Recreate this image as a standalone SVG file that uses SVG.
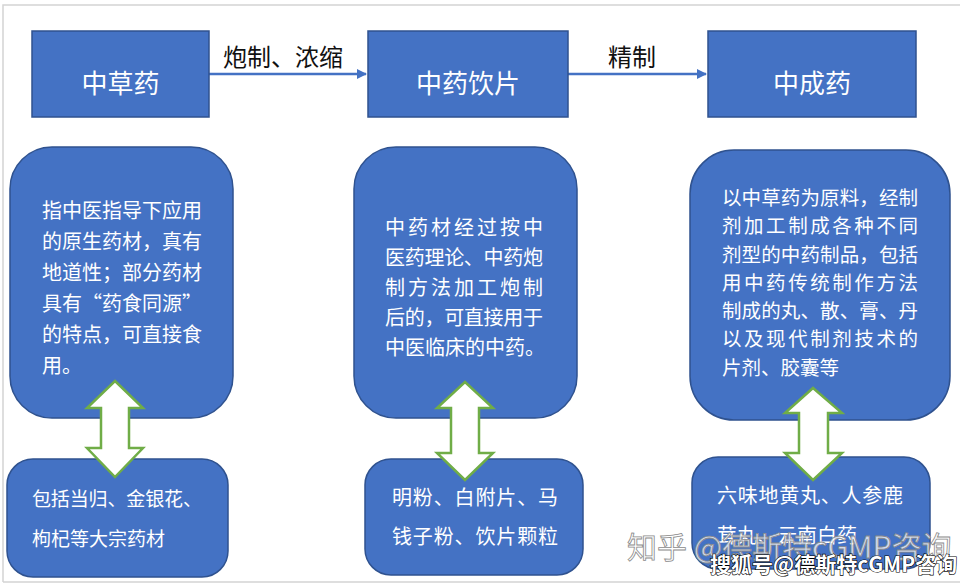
<svg xmlns="http://www.w3.org/2000/svg" width="960" height="586" viewBox="0 0 960 586">
<style>
.box{fill:#4472C4;stroke:#2F528F;stroke-width:1.5}
.t{font-family:"Noto Sans CJK SC","Noto Sans",sans-serif;fill:#fff}
.title{font-size:26px;text-anchor:middle}
.body{font-size:20px}
.lbl{font-family:"Noto Sans CJK SC","Noto Sans",sans-serif;font-size:24px;fill:#111;text-anchor:middle}
.conn{stroke:#4472C4;stroke-width:2.5;fill:none}
.dbl{fill:#fff;stroke:#70AD47;stroke-width:2.5;stroke-linejoin:miter}
</style>
<defs>
<marker id="ah" markerWidth="10" markerHeight="10" refX="9" refY="5" orient="auto" markerUnits="userSpaceOnUse" viewBox="0 0 10 10">
<path d="M0,0 L10,5 L0,10 z" fill="#4472C4"/>
</marker>
</defs>
<rect x="0" y="0" width="960" height="586" fill="#fff"/>
<path d="M3,582 L3,5 L960,5 M3,582 L960,582" fill="none" stroke="#d4d4d4" stroke-width="1.5"/>

<g id="connectors">
<line class="conn" x1="209" y1="74" x2="366" y2="74" marker-end="url(#ah)" style="stroke-width:2.5"/>
<text class="lbl" x="283" y="66">炮制、浓缩</text>
<line class="conn" x1="568" y1="74" x2="706" y2="74" marker-end="url(#ah)"/>
<text class="lbl" x="632" y="66">精制</text>
</g>

<g id="n-zhongcaoyao">
<rect class="box" x="32" y="31" width="177" height="86"/>
<text class="t title" x="120.5" y="93">中草药</text>
</g>
<g id="n-yinpian">
<rect class="box" x="368" y="31" width="200" height="86"/>
<text class="t title" x="468" y="93">中药饮片</text>
</g>
<g id="n-chengyao">
<rect class="box" x="708" y="31" width="208" height="86"/>
<text class="t title" x="812" y="93">中成药</text>
</g>

<g id="n-desc1">
<rect class="box" x="10" y="147" width="223" height="271" rx="42" ry="42"/>
<text class="t body" x="42" y="218">指中医指导下应用</text>
<text class="t body" x="42" y="249">的原生药材，真有</text>
<text class="t body" x="42" y="280">地道性；部分药材</text>
<text class="t body" x="42" y="311">具有“药食同源”</text>
<text class="t body" x="42" y="342">的特点，可直接食</text>
<text class="t body" x="42" y="373">用。</text>
</g>
<g id="n-desc2">
<rect class="box" x="354" y="147" width="223" height="271" rx="42" ry="42"/>
<text class="t body" x="385" y="235" textLength="158" lengthAdjust="spacing">中药材经过按中</text>
<text class="t body" x="385" y="265" textLength="158" lengthAdjust="spacing">医药理论、中药炮</text>
<text class="t body" x="385" y="295" textLength="158" lengthAdjust="spacing">制方法加工炮制</text>
<text class="t body" x="385" y="325" textLength="158" lengthAdjust="spacing">后的，可直接用于</text>
<text class="t body" x="385" y="355">中医临床的中药。</text>
</g>
<g id="n-desc3">
<rect class="box" x="690" y="150" width="260" height="270" rx="44" ry="44"/>
<text class="t body" x="722" y="205" style="font-size:19.5px" textLength="196" lengthAdjust="spacing">以中草药为原料，经制</text>
<text class="t body" x="722" y="233" style="font-size:19.5px" textLength="196" lengthAdjust="spacing">剂加工制成各种不同</text>
<text class="t body" x="722" y="262" style="font-size:19.5px" textLength="196" lengthAdjust="spacing">剂型的中药制品，包括</text>
<text class="t body" x="722" y="290" style="font-size:19.5px" textLength="196" lengthAdjust="spacing">用中药传统制作方法</text>
<text class="t body" x="722" y="318" style="font-size:19.5px" textLength="196" lengthAdjust="spacing">制成的丸、散、膏、丹</text>
<text class="t body" x="722" y="346" style="font-size:19.5px" textLength="196" lengthAdjust="spacing">以及现代制剂技术的</text>
<text class="t body" x="722" y="375" style="font-size:19.5px">片剂、胶囊等</text>
</g>

<g id="n-ex1">
<rect class="box" x="7" y="459" width="221" height="118" rx="26" ry="26"/>
<text class="t body" x="32" y="506" style="font-size:19px" textLength="170" lengthAdjust="spacing">包括当归、金银花、</text>
<text class="t body" x="32" y="546" style="font-size:19px">枸杞等大宗药材</text>
</g>
<g id="n-ex2">
<rect class="box" x="365" y="459" width="218" height="116" rx="26" ry="26"/>
<text class="t body" x="392" y="505" textLength="166" lengthAdjust="spacing">明粉、白附片、马</text>
<text class="t body" x="392" y="544" textLength="166" lengthAdjust="spacing">钱子粉、饮片颗粒</text>
</g>
<g id="n-ex3">
<rect class="box" x="692" y="457" width="238" height="112" rx="26" ry="26"/>
<text class="t body" x="717" y="503" textLength="186" lengthAdjust="spacing">六味地黄丸、人参鹿</text>
<text class="t body" x="717" y="543">茸丸、云南白药</text>
</g>

<g id="double-arrows">
<path class="dbl" d="M115,381 L143,408 L129,408 L129,448 L143,448 L115,477 L87,448 L101,448 L101,408 L87,408 Z"/>
<path class="dbl" d="M465,382 L493,408 L479,408 L479,453 L493,453 L465,480 L437,453 L451,453 L451,408 L437,408 Z"/>
<path class="dbl" d="M813,388 L842,413 L828,413 L828,453 L842,453 L813,480 L785,453 L799,453 L799,413 L785,413 Z"/>
</g>

<g id="watermarks">
<text x="627" y="558" style="font-family:'Noto Sans CJK SC','Noto Sans',sans-serif;font-size:30px;fill:#fff;fill-opacity:0.75;stroke:#8a8a8a;stroke-width:0.8">知乎 @德斯特cGMP咨询</text>
<text x="710" y="572" style="font-family:'Noto Sans CJK SC','Noto Sans',sans-serif;font-size:21px;font-weight:bold;fill:#fff;stroke:#000;stroke-width:1.2;paint-order:stroke">搜狐号@德斯特cGMP咨询</text>
</g>
</svg>
